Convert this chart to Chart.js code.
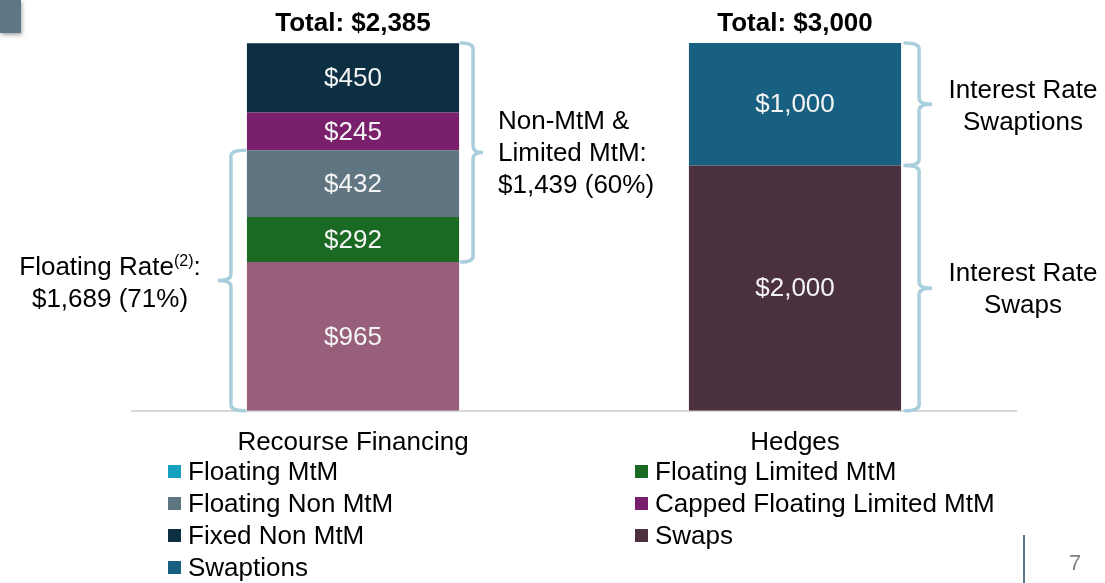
<!DOCTYPE html>
<html>
<head>
<meta charset="utf-8">
<script src="https://cdn.jsdelivr.net/npm/chart.js@4.4.1/dist/chart.umd.min.js"></script>
<style>
  html, body { margin: 0; padding: 0; background: #fff; }
  #wrap { width: 1105px; height: 583px; position: relative; }
</style>
</head>
<body>
<div id="wrap"><canvas id="myChart"></canvas></div>
<script>
const categories = ['Recourse Financing', 'Hedges'];
const seriesNames = ['Floating MtM', 'Floating Limited MtM', 'Floating Non MtM', 'Capped Floating Limited MtM', 'Fixed Non MtM', 'Swaps', 'Swaptions'];
const floatingMtM = [965, 0];
const floatingLimitedMtM = [292, 0];
const floatingNonMtM = [432, 0];
const cappedFloatingLimitedMtM = [245, 0];
const fixedNonMtM = [450, 0];
const swaps = [0, 2000];
const swaptions = [0, 1000];
const totals = [2385, 3000];

const barColors = ['#975f7a', '#1b6a24', '#5f7581', '#7a1f6b', '#0c2f42', '#4b303f', '#186082'];
const legendColors = ['#16a0bf', '#1b6a24', '#5f7581', '#7a1f6b', '#0c2f42', '#4b303f', '#186082'];

const FONT = '"Liberation Sans", Arial, sans-serif';
const BRACE = '#a9cfdc';

const seriesValues = [floatingMtM, floatingLimitedMtM, floatingNonMtM, cappedFloatingLimitedMtM, fixedNonMtM, swaps, swaptions];

// each bar is drawn as share of its own total so both reach the top
const datasets = seriesValues.map((vals, i) => ({
  label: seriesNames[i],
  raw: vals,
  data: vals.map((v, j) => v / totals[j] * 100),
  backgroundColor: barColors[i],
  borderWidth: 0,
  categoryPercentage: 1,
  barPercentage: 0.48
}));

function fmt(v) {
  return '$' + v.toLocaleString('en-US');
}

function brace(ctx, xv, yTop, yBot, dir, tip, nub) {
  // dir 1: nub points right, tips point left
  const yMid = (yTop + yBot) / 2;
  const r = 6;
  ctx.beginPath();
  ctx.moveTo(xv - dir * tip, yTop);
  ctx.quadraticCurveTo(xv, yTop, xv, yTop + r);
  ctx.lineTo(xv, yMid - r);
  ctx.quadraticCurveTo(xv, yMid, xv + dir * nub, yMid);
  ctx.quadraticCurveTo(xv, yMid, xv, yMid + r);
  ctx.lineTo(xv, yBot - r);
  ctx.quadraticCurveTo(xv, yBot, xv - dir * tip, yBot);
  ctx.stroke();
}

// share of a category's total taken by the first upTo series
function cum(j, upTo) {
  let s = 0;
  for (let i = 0; i < upTo; i++) s += seriesValues[i][j];
  return s / totals[j] * 100;
}

const extras = {
  id: 'extras',
  afterDatasetsDraw(chart) {
    const ctx = chart.ctx;
    const y = chart.scales.y;
    ctx.save();

    // value labels inside segments
    ctx.font = '26px ' + FONT;
    ctx.fillStyle = '#f4f4f4';
    ctx.textAlign = 'center';
    ctx.textBaseline = 'middle';
    chart.data.datasets.forEach((ds, i) => {
      const meta = chart.getDatasetMeta(i);
      meta.data.forEach((bar, j) => {
        const v = ds.raw[j];
        if (!v) return;
        ctx.fillText(fmt(v), bar.x, (bar.y + bar.base) / 2 + 1);
      });
    });

    // totals above bars
    const bars = chart.getDatasetMeta(0).data;
    ctx.font = 'bold 26px ' + FONT;
    ctx.fillStyle = '#000';
    bars.forEach((bar, j) => {
      ctx.fillText('Total: ' + fmt(totals[j]), bar.x, y.getPixelForValue(100) - 19);
    });

    // braces
    ctx.strokeStyle = BRACE;
    ctx.lineWidth = 3.5;
    ctx.lineCap = 'round';
    const b0 = bars[0], b1 = bars[1];
    const l0 = b0.x - b0.width / 2, r0 = b0.x + b0.width / 2;
    const r1 = b1.x + b1.width / 2;
    brace(ctx, l0 - 16, y.getPixelForValue(cum(0, 3)), y.getPixelForValue(0), -1, 14, 13);
    brace(ctx, r0 + 14, y.getPixelForValue(100), y.getPixelForValue(cum(0, 1)), 1, 12, 10);
    brace(ctx, r1 + 18, y.getPixelForValue(100), y.getPixelForValue(cum(1, 6)), 1, 14, 13);
    brace(ctx, r1 + 18, y.getPixelForValue(cum(1, 6)), y.getPixelForValue(0), 1, 14, 13);

    // brace captions
    ctx.fillStyle = '#000';
    ctx.textBaseline = 'middle';
    // Floating Rate(2):
    const cx = 110;
    ctx.font = '26px ' + FONT;
    const w1 = ctx.measureText('Floating Rate').width;
    ctx.font = '16px ' + FONT;
    const w2 = ctx.measureText('(2)').width;
    ctx.font = '26px ' + FONT;
    const w3 = ctx.measureText(':').width;
    let x = cx - (w1 + w2 + w3) / 2;
    ctx.textAlign = 'left';
    ctx.fillText('Floating Rate', x, 268);
    ctx.font = '16px ' + FONT;
    ctx.fillText('(2)', x + w1, 262);
    ctx.font = '26px ' + FONT;
    ctx.fillText(':', x + w1 + w2, 268);
    ctx.textAlign = 'center';
    ctx.fillText('$1,689 (71%)', cx, 300);

    ctx.textAlign = 'left';
    ctx.fillText('Non-MtM &', 498, 122);
    ctx.fillText('Limited MtM:', 498, 154);
    ctx.fillText('$1,439 (60%)', 498, 186);

    ctx.textAlign = 'center';
    ctx.fillText('Interest Rate', 1023, 91);
    ctx.fillText('Swaptions', 1023, 123);
    ctx.fillText('Interest Rate', 1023, 274);
    ctx.fillText('Swaps', 1023, 306);

    // legend in two columns, row by row
    const cols = [168, 635];
    const rows = [472, 504, 536, 568];
    ctx.textAlign = 'left';
    seriesNames.forEach((name, i) => {
      const lx = cols[i % 2], ly = rows[Math.floor(i / 2)];
      ctx.fillStyle = legendColors[i];
      ctx.fillRect(lx, ly - 7, 13, 13);
      ctx.fillStyle = '#000';
      ctx.fillText(name, lx + 20, ly + 1);
    });

    // slide furniture: corner tab and page number
    ctx.save();
    ctx.shadowColor = 'rgba(0,0,0,0.35)';
    ctx.shadowBlur = 4;
    ctx.shadowOffsetX = 1;
    ctx.shadowOffsetY = 2;
    ctx.fillStyle = '#5f7684';
    ctx.fillRect(0, 0, 21, 33);
    ctx.restore();
    ctx.fillStyle = '#5f7684';
    ctx.fillRect(1023, 535, 2, 48);
    ctx.fillStyle = '#7f7f7f';
    ctx.font = '22px ' + FONT;
    ctx.textAlign = 'center';
    ctx.fillText('7', 1075, 564);

    ctx.restore();
  }
};

new Chart('myChart', {
  type: 'bar',
  data: {
    labels: categories,
    datasets: datasets
  },
  options: {
    responsive: true,
    maintainAspectRatio: false,
    animation: false,
    layout: {
      padding: {left: 132, right: 89, top: 43, bottom: 109}
    },
    plugins: {
      legend: {display: false},
      tooltip: {enabled: false}
    },
    scales: {
      x: {
        stacked: true,
        grid: {display: false, drawTicks: false},
        border: {display: true, color: '#d9d9d9', width: 2},
        ticks: {
          color: '#000',
          font: {family: FONT, size: 26},
          padding: 16
        }
      },
      y: {
        stacked: true,
        display: false,
        min: 0,
        max: 100
      }
    }
  },
  plugins: [extras]
});
</script>
</body>
</html>
